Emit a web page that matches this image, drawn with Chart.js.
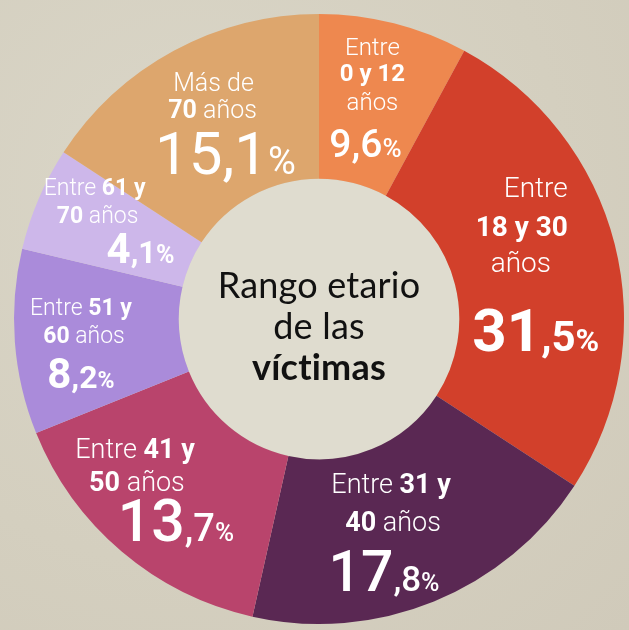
<!DOCTYPE html>
<html>
<head>
<meta charset="utf-8">
<script src="https://cdn.jsdelivr.net/npm/chart.js@4/dist/chart.umd.min.js"></script>
<style>
  html, body { margin: 0; padding: 0; background: #D6D1C2; }
  #wrap { width: 629px; height: 630px; position: relative;
    background: radial-gradient(circle at 30% 30%, #DAD6C8 0%, #D4CFBF 60%, #D0CABA 100%); }
</style>
</head>
<body>
<div id="wrap"><canvas id="c" width="629" height="630"></canvas></div>
<script>
// ---- data ----
const ageGroups = ['Entre 0 y 12 años', 'Entre 18 y 30 años', 'Entre 31 y 40 años',
  'Entre 41 y 50 años', 'Entre 51 y 60 años', 'Entre 61 y 70 años', 'Más de 70 años'];
// percentages printed on the chart
const percentText = [9.6, 31.5, 17.8, 13.7, 8.2, 4.1, 15.1];
// arc sizes as actually drawn in the picture (share of the full circle, %)
const arcShare = [7.9, 26.3, 19.3, 15.4, 9.8, 5.5, 15.8];
// label text lines: [text, bold]
const labelLines = [
  [[['Entre', 0]], [['0 y 12', 1]], [['años', 0]]],
  [[['Entre', 0]], [['18 y 30', 1]], [['años', 0]]],
  [[['Entre ', 0], ['31 y', 1]], [['40', 1], [' años', 0]]],
  [[['Entre ', 0], ['41 y', 1]], [['50', 1], [' años', 0]]],
  [[['Entre ', 0], ['51 y', 1]], [['60', 1], [' años', 0]]],
  [[['Entre ', 0], ['61 y', 1]], [['70', 1], [' años', 0]]],
  [[['Más de', 0]], [['70', 1], [' años', 0]]]
];
const centerTitle = [['Rango etario', 400], ['de las', 400], ['víctimas', 700]];

// ---- styles / layout ----
const sliceColors = ['#EE884F', '#D2402B', '#5A2853', '#B9446C', '#AA8BDA', '#CDB7EA', '#DDA66D'];
const labelLayout = [
  { size: 24, lines: [[-2, -45], [-2, -19], [-2, 10]], pct: [-9, 57], sizes: [39, 39, 26], w: 500 },
  { size: 28, lines: [[-2, -67], [-16, -28], [-17, 8]], pct: [-2, 87], sizes: [60, 42, 32], w: 700 },
  { size: 27, lines: [[-13, -35], [-11, 3]], pct: [-20, 63], sizes: [57, 35, 25], w: 500 },
  { size: 27, lines: [[-38, -33], [-36, 0]], pct: [3, 50], sizes: [59, 38, 26], w: 500 },
  { size: 23, lines: [[-13, -21], [-10, 7]], pct: [-13, 52], sizes: [42, 32, 23], w: 700 },
  { size: 23, lines: [[-17, -35], [-14, -7]], pct: [29, 33], sizes: [42, 31, 25], w: 700 },
  { size: 25, lines: [[2, -30], [1, -3]], pct: [14, 53], sizes: [60, 60, 38], w: 400 }
];
const FONT = 'Roboto, "Liberation Sans", sans-serif';

function drawParts(ctx, parts, cx, y) {
  let total = 0;
  parts.forEach(p => { ctx.font = p.font; p.w = ctx.measureText(p.t).width; total += p.w; });
  let x = cx - total / 2;
  parts.forEach(p => { ctx.font = p.font; ctx.fillText(p.t, x, y); x += p.w; });
}

const labelPlugin = {
  id: 'labels',
  beforeDatasetsDraw(chart) {
    const arc = chart.getDatasetMeta(0).data[0];
    const { x, y, innerRadius } = arc.getProps(['x', 'y', 'innerRadius'], true);
    const ctx = chart.ctx;
    ctx.save();
    ctx.beginPath();
    ctx.arc(x, y, innerRadius, 0, Math.PI * 2);
    ctx.fillStyle = '#DFDCCF';
    ctx.fill();
    ctx.restore();
  },
  afterDatasetsDraw(chart) {
    const ctx = chart.ctx;
    const meta = chart.getDatasetMeta(0);
    ctx.save();
    ctx.textBaseline = 'alphabetic';
    ctx.fillStyle = '#FFFFFF';
    meta.data.forEach((el, i) => {
      const p = el.getProps(['x', 'y', 'startAngle', 'endAngle', 'outerRadius', 'innerRadius'], true);
      const mid = (p.startAngle + p.endAngle) / 2;
      const r = 0.74 * p.outerRadius;
      const ax = p.x + Math.cos(mid) * r;
      const ay = p.y + Math.sin(mid) * r;
      const L = labelLayout[i];
      labelLines[i].forEach((line, li) => {
        const parts = line.map(([t, b]) => ({ t, font: (b ? '700 ' : '300 ') + L.size + 'px ' + FONT }));
        drawParts(ctx, parts, ax + L.lines[li][0], ay + L.lines[li][1]);
      });
      const [ip, dp] = percentText[i].toFixed(1).split('.');
      const pparts = [
        { t: ip, font: L.w + ' ' + L.sizes[0] + 'px ' + FONT },
        { t: ',' + dp, font: L.w + ' ' + L.sizes[1] + 'px ' + FONT },
        { t: '%', font: L.w + ' ' + L.sizes[2] + 'px ' + FONT }
      ];
      drawParts(ctx, pparts, ax + L.pct[0], ay + L.pct[1]);
    });
    // center title
    const c = meta.data[0].getProps(['x', 'y'], true);
    ctx.fillStyle = '#111111';
    ctx.textAlign = 'center';
    if ('letterSpacing' in ctx) ctx.letterSpacing = '0.2px';
    const offs = [-21, 20, 61];
    centerTitle.forEach(([t, w], k) => {
      ctx.font = w + ' 36px Lato, "Open Sans", sans-serif';
      ctx.fillText(t, c.x, c.y + offs[k]);
    });
    ctx.restore();
  }
};

new Chart(document.getElementById('c'), {
  type: 'doughnut',
  data: {
    labels: ageGroups,
    datasets: [{
      data: arcShare,
      backgroundColor: sliceColors,
      borderWidth: 0
    }]
  },
  options: {
    responsive: false,
    animation: false,
    devicePixelRatio: 1,
    cutout: '46%',
    layout: { padding: { left: 14, right: 5, top: 14, bottom: 6 } },
    plugins: { legend: { display: false }, tooltip: { enabled: false } }
  },
  plugins: [labelPlugin]
});
</script>
</body>
</html>
